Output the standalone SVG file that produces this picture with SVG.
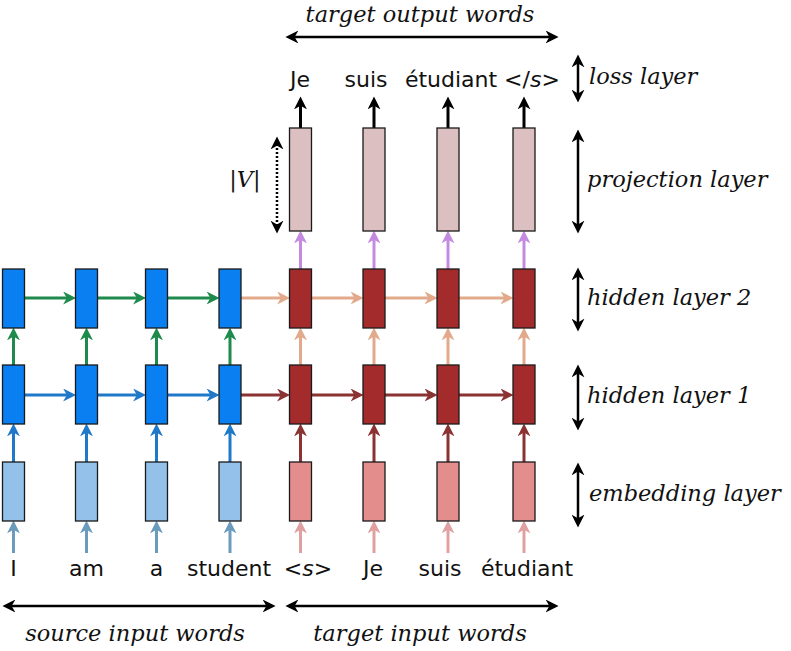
<svg xmlns="http://www.w3.org/2000/svg" width="791" height="651" viewBox="0 0 791 651">
<style>
.box{stroke:#1a1a1a;stroke-width:1.3}
.sh{fill:#0a7ff2}.se{fill:#94c1ea}.th{fill:#a32b2b}.te{fill:#e38d8d}.pr{fill:#dcbfc0}
.a{fill:none;stroke-width:3}
.w{font-family:"DejaVu Sans",sans-serif;font-size:22px;fill:#111;text-anchor:middle}
.l{font-family:"DejaVu Serif",serif;font-style:italic;font-size:22.5px;fill:#111}
.d{fill:none;stroke:#000;stroke-width:2.5}
</style>
<defs>
<marker id="mg" viewBox="0 0 12 12" refX="5" refY="6" markerWidth="13" markerHeight="13" markerUnits="userSpaceOnUse" orient="auto"><path d="M0,0 L12,6 L0,12 L3.5,6 z" fill="#1e8a4c"/></marker>
<marker id="mb" viewBox="0 0 12 12" refX="5" refY="6" markerWidth="13" markerHeight="13" markerUnits="userSpaceOnUse" orient="auto"><path d="M0,0 L12,6 L0,12 L3.5,6 z" fill="#1f78c8"/></marker>
<marker id="ms" viewBox="0 0 12 12" refX="5" refY="6" markerWidth="13" markerHeight="13" markerUnits="userSpaceOnUse" orient="auto"><path d="M0,0 L12,6 L0,12 L3.5,6 z" fill="#6a9bbd"/></marker>
<marker id="mt" viewBox="0 0 12 12" refX="5" refY="6" markerWidth="13" markerHeight="13" markerUnits="userSpaceOnUse" orient="auto"><path d="M0,0 L12,6 L0,12 L3.5,6 z" fill="#e2a98a"/></marker>
<marker id="mr" viewBox="0 0 12 12" refX="5" refY="6" markerWidth="13" markerHeight="13" markerUnits="userSpaceOnUse" orient="auto"><path d="M0,0 L12,6 L0,12 L3.5,6 z" fill="#8b3232"/></marker>
<marker id="mp" viewBox="0 0 12 12" refX="5" refY="6" markerWidth="13" markerHeight="13" markerUnits="userSpaceOnUse" orient="auto"><path d="M0,0 L12,6 L0,12 L3.5,6 z" fill="#e0a0a0"/></marker>
<marker id="mv" viewBox="0 0 12 12" refX="5" refY="6" markerWidth="13" markerHeight="13" markerUnits="userSpaceOnUse" orient="auto"><path d="M0,0 L12,6 L0,12 L3.5,6 z" fill="#c48ae0"/></marker>
<marker id="mk" viewBox="0 0 12 12" refX="5" refY="6" markerWidth="13" markerHeight="13" markerUnits="userSpaceOnUse" orient="auto"><path d="M0,0 L12,6 L0,12 L3.5,6 z" fill="#000"/></marker>
<marker id="md" viewBox="0 0 12 12" refX="5" refY="6" markerWidth="13" markerHeight="13" markerUnits="userSpaceOnUse" orient="auto-start-reverse"><path d="M0,0 L12,6 L0,12 L3.5,6 z" fill="#000"/></marker>
</defs>

<g id="connectors">
<g stroke="#6a9bbd" class="a">
<line x1="13.5" y1="553" x2="13.5" y2="528" marker-end="url(#ms)"/>
<line x1="86.5" y1="553" x2="86.5" y2="528" marker-end="url(#ms)"/>
<line x1="156.5" y1="553" x2="156.5" y2="528" marker-end="url(#ms)"/>
<line x1="230" y1="553" x2="230" y2="528" marker-end="url(#ms)"/>
</g>
<g stroke="#e0a0a0" class="a">
<line x1="300.5" y1="553" x2="300.5" y2="528" marker-end="url(#mp)"/>
<line x1="374" y1="553" x2="374" y2="528" marker-end="url(#mp)"/>
<line x1="448" y1="553" x2="448" y2="528" marker-end="url(#mp)"/>
<line x1="524" y1="553" x2="524" y2="528" marker-end="url(#mp)"/>
</g>
<g stroke="#1f78c8" class="a">
<line x1="13.5" y1="462" x2="13.5" y2="431" marker-end="url(#mb)"/>
<line x1="86.5" y1="462" x2="86.5" y2="431" marker-end="url(#mb)"/>
<line x1="156.5" y1="462" x2="156.5" y2="431" marker-end="url(#mb)"/>
<line x1="230" y1="462" x2="230" y2="431" marker-end="url(#mb)"/>
</g>
<g stroke="#8b3232" class="a">
<line x1="300.5" y1="462" x2="300.5" y2="431" marker-end="url(#mr)"/>
<line x1="374" y1="462" x2="374" y2="431" marker-end="url(#mr)"/>
<line x1="448" y1="462" x2="448" y2="431" marker-end="url(#mr)"/>
<line x1="524" y1="462" x2="524" y2="431" marker-end="url(#mr)"/>
</g>
<g stroke="#1f78c8" class="a">
<line x1="24.5" y1="395" x2="68.5" y2="395" marker-end="url(#mb)"/>
<line x1="97.5" y1="395" x2="138.5" y2="395" marker-end="url(#mb)"/>
<line x1="167.5" y1="395" x2="212" y2="395" marker-end="url(#mb)"/>
</g>
<g stroke="#8b3232" class="a">
<line x1="241" y1="395" x2="282.5" y2="395" marker-end="url(#mr)"/>
<line x1="311.5" y1="395" x2="356" y2="395" marker-end="url(#mr)"/>
<line x1="385" y1="395" x2="430" y2="395" marker-end="url(#mr)"/>
<line x1="459" y1="395" x2="506" y2="395" marker-end="url(#mr)"/>
</g>
<g stroke="#1e8a4c" class="a">
<line x1="13.5" y1="365" x2="13.5" y2="335" marker-end="url(#mg)"/>
<line x1="86.5" y1="365" x2="86.5" y2="335" marker-end="url(#mg)"/>
<line x1="156.5" y1="365" x2="156.5" y2="335" marker-end="url(#mg)"/>
<line x1="230" y1="365" x2="230" y2="335" marker-end="url(#mg)"/>
</g>
<g stroke="#e2a98a" class="a">
<line x1="300.5" y1="365" x2="300.5" y2="335" marker-end="url(#mt)"/>
<line x1="374" y1="365" x2="374" y2="335" marker-end="url(#mt)"/>
<line x1="448" y1="365" x2="448" y2="335" marker-end="url(#mt)"/>
<line x1="524" y1="365" x2="524" y2="335" marker-end="url(#mt)"/>
</g>
<g stroke="#1e8a4c" class="a">
<line x1="24.5" y1="298" x2="68.5" y2="298" marker-end="url(#mg)"/>
<line x1="97.5" y1="298" x2="138.5" y2="298" marker-end="url(#mg)"/>
<line x1="167.5" y1="298" x2="212" y2="298" marker-end="url(#mg)"/>
</g>
<g stroke="#e2a98a" class="a">
<line x1="241" y1="298" x2="282.5" y2="298" marker-end="url(#mt)"/>
<line x1="311.5" y1="298" x2="356" y2="298" marker-end="url(#mt)"/>
<line x1="385" y1="298" x2="430" y2="298" marker-end="url(#mt)"/>
<line x1="459" y1="298" x2="506" y2="298" marker-end="url(#mt)"/>
</g>
<g stroke="#c48ae0" class="a">
<line x1="300.5" y1="269" x2="300.5" y2="238" marker-end="url(#mv)"/>
<line x1="374" y1="269" x2="374" y2="238" marker-end="url(#mv)"/>
<line x1="448" y1="269" x2="448" y2="238" marker-end="url(#mv)"/>
<line x1="524" y1="269" x2="524" y2="238" marker-end="url(#mv)"/>
</g>
<g stroke="#000" class="a">
<line x1="300.5" y1="128" x2="300.5" y2="104" marker-end="url(#mk)"/>
<line x1="374" y1="128" x2="374" y2="104" marker-end="url(#mk)"/>
<line x1="448" y1="128" x2="448" y2="104" marker-end="url(#mk)"/>
<line x1="524" y1="128" x2="524" y2="104" marker-end="url(#mk)"/>
</g>
<line class="d" x1="293" y1="37" x2="551" y2="37" marker-start="url(#md)" marker-end="url(#md)"/>
<line class="d" x1="10" y1="606" x2="268" y2="606" marker-start="url(#md)" marker-end="url(#md)"/>
<line class="d" x1="293" y1="606" x2="551" y2="606" marker-start="url(#md)" marker-end="url(#md)"/>
<line class="d" x1="578" y1="62" x2="578" y2="95" marker-start="url(#md)" marker-end="url(#md)"/>
<line class="d" x1="578" y1="137" x2="578" y2="226" marker-start="url(#md)" marker-end="url(#md)"/>
<line class="d" x1="578" y1="275" x2="578" y2="324" marker-start="url(#md)" marker-end="url(#md)"/>
<line class="d" x1="578" y1="372" x2="578" y2="423" marker-start="url(#md)" marker-end="url(#md)"/>
<line class="d" x1="578" y1="470" x2="578" y2="520" marker-start="url(#md)" marker-end="url(#md)"/>
<line x1="277" y1="144" x2="277" y2="226" stroke="#000" stroke-width="2.5" stroke-dasharray="2,2" marker-start="url(#md)" marker-end="url(#md)"/>
</g>

<g id="source-embedding">
<rect id="se1" class="box se" x="2.5" y="462" width="22" height="59"/>
<rect id="se2" class="box se" x="75.5" y="462" width="22" height="59"/>
<rect id="se3" class="box se" x="145.5" y="462" width="22" height="59"/>
<rect id="se4" class="box se" x="219" y="462" width="22" height="59"/>
</g>
<g id="target-embedding">
<rect id="te1" class="box te" x="289.5" y="462" width="22" height="59"/>
<rect id="te2" class="box te" x="363" y="462" width="22" height="59"/>
<rect id="te3" class="box te" x="437" y="462" width="22" height="59"/>
<rect id="te4" class="box te" x="513" y="462" width="22" height="59"/>
</g>
<g id="source-hidden1">
<rect id="sa1" class="box sh" x="2.5" y="365" width="22" height="59"/>
<rect id="sa2" class="box sh" x="75.5" y="365" width="22" height="59"/>
<rect id="sa3" class="box sh" x="145.5" y="365" width="22" height="59"/>
<rect id="sa4" class="box sh" x="219" y="365" width="22" height="59"/>
</g>
<g id="target-hidden1">
<rect id="ta1" class="box th" x="289.5" y="365" width="22" height="59"/>
<rect id="ta2" class="box th" x="363" y="365" width="22" height="59"/>
<rect id="ta3" class="box th" x="437" y="365" width="22" height="59"/>
<rect id="ta4" class="box th" x="513" y="365" width="22" height="59"/>
</g>
<g id="source-hidden2">
<rect id="sb1" class="box sh" x="2.5" y="269" width="22" height="59"/>
<rect id="sb2" class="box sh" x="75.5" y="269" width="22" height="59"/>
<rect id="sb3" class="box sh" x="145.5" y="269" width="22" height="59"/>
<rect id="sb4" class="box sh" x="219" y="269" width="22" height="59"/>
</g>
<g id="target-hidden2">
<rect id="tb1" class="box th" x="289.5" y="269" width="22" height="59"/>
<rect id="tb2" class="box th" x="363" y="269" width="22" height="59"/>
<rect id="tb3" class="box th" x="437" y="269" width="22" height="59"/>
<rect id="tb4" class="box th" x="513" y="269" width="22" height="59"/>
</g>
<g id="projection">
<rect id="p1" class="box pr" x="289.5" y="128" width="22" height="103"/>
<rect id="p2" class="box pr" x="363" y="128" width="22" height="103"/>
<rect id="p3" class="box pr" x="437" y="128" width="22" height="103"/>
<rect id="p4" class="box pr" x="513" y="128" width="22" height="103"/>
</g>

<g id="input-words">
<text class="w" x="13.5" y="576">I</text>
<text class="w" x="86.5" y="576">am</text>
<text class="w" x="156.5" y="576">a</text>
<text class="w" x="229" y="576">student</text>
<text class="w" x="308" y="576">&lt;<tspan font-style="italic">s</tspan>&gt;</text>
<text class="w" x="373" y="576">Je</text>
<text class="w" x="440" y="576">suis</text>
<text class="w" x="527" y="576">étudiant</text>
</g>
<g id="output-words">
<text class="w" x="300" y="87">Je</text>
<text class="w" x="366" y="87">suis</text>
<text class="w" x="451" y="87">étudiant</text>
<text class="w" x="532" y="87">&lt;/<tspan font-style="italic">s</tspan>&gt;</text>
</g>
<g id="labels">
<text class="l" x="420" y="22" text-anchor="middle">target output words</text>
<text class="l" x="589" y="84">loss layer</text>
<text class="l" x="587" y="187">projection layer</text>
<text class="l" x="587" y="305">hidden layer 2</text>
<text class="l" x="587" y="403">hidden layer 1</text>
<text class="l" x="589" y="501">embedding layer</text>
<text class="l" x="135" y="641" text-anchor="middle">source input words</text>
<text class="l" x="420" y="641" text-anchor="middle">target input words</text>
<text class="l" x="245" y="187" text-anchor="middle">|V|</text>
</g>
</svg>
